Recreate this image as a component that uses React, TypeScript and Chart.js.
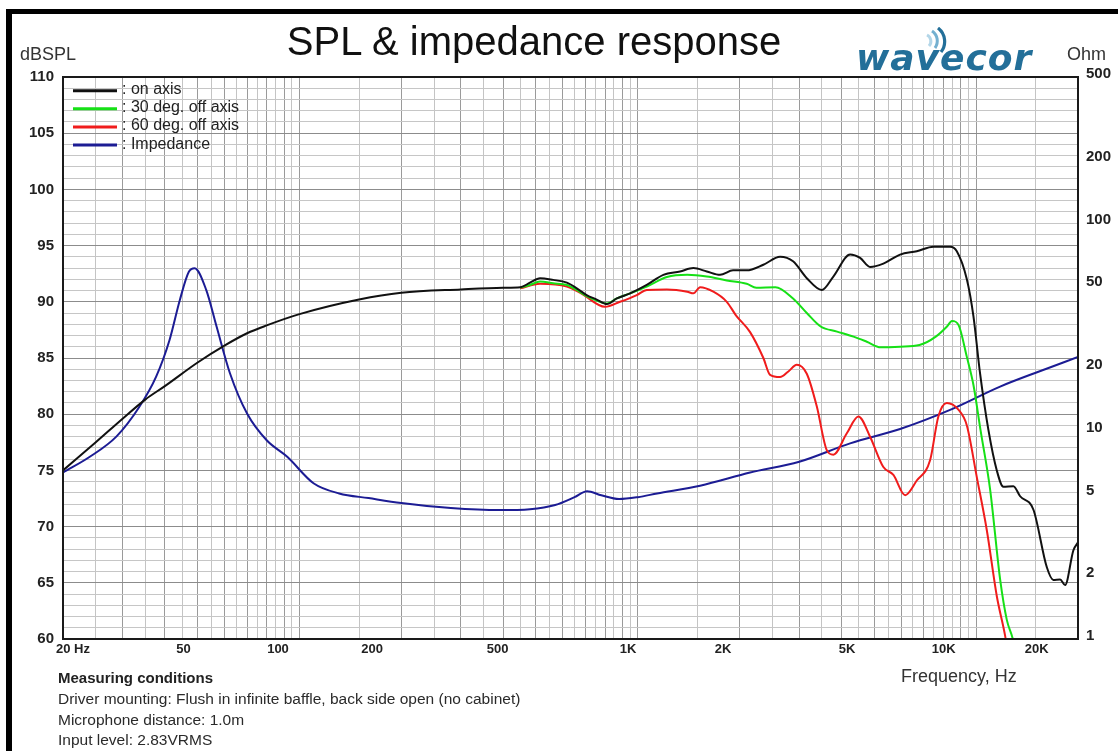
import React, { useEffect, useRef } from 'react';
import { Chart, registerables } from 'chart.js';

Chart.register(...registerables);

const FONT = "'Liberation Sans', Arial, Helvetica, sans-serif";

// ---------- data ----------
const seriesNames = ['on axis', '30 deg. off axis', '60 deg. off axis', 'Impedance'];

const onAxisHz = [20, 25, 30, 35, 40, 50, 60, 70, 80, 100, 150, 200, 300, 400, 450, 480, 514, 562, 617, 660, 706, 756, 810, 867, 949, 1063, 1190, 1333, 1460, 1599, 1750, 1912, 2098, 2350, 2633, 2876, 3158, 3497, 3784, 4242, 4540, 4858, 5318, 5959, 6676, 7476, 8375, 8766, 9386, 9818, 10272, 10870, 11508, 12036, 12884, 13488, 14768, 16170, 16914, 17704, 18320, 19384, 20000];
const onAxisDb = [75.0, 77.5, 79.6, 81.3, 82.5, 84.6, 86.1, 87.2, 87.9, 88.9, 90.2, 90.8, 91.1, 91.25, 91.3, 91.7, 92.1, 91.95, 91.7, 91.2, 90.6, 90.2, 89.8, 90.3, 90.75, 91.5, 92.4, 92.7, 93.0, 92.7, 92.4, 92.8, 92.8, 93.3, 94.0, 93.6, 92.1, 91.05, 92.25, 94.2, 93.9, 93.1, 93.4, 94.2, 94.5, 94.9, 94.9, 94.5, 92.0, 88.7, 83.6, 78.6, 75.0, 73.55, 73.6, 72.7, 71.5, 66.4, 65.25, 65.3, 64.8, 67.9, 68.6];

const off30Hz = [449, 480, 514, 562, 617, 660, 706, 756, 810, 867, 949, 1063, 1219, 1400, 1599, 1832, 2098, 2240, 2550, 2876, 3158, 3470, 3880, 4340, 4750, 5220, 5959, 6800, 7600, 8200, 8480, 8880, 9386, 9818, 10300, 10998, 11772, 12320, 12834, 13300];
const off30Db = [91.25, 91.5, 91.8, 91.65, 91.5, 91.05, 90.5, 90.1, 89.85, 90.3, 90.75, 91.35, 92.2, 92.4, 92.25, 91.9, 91.6, 91.25, 91.3, 90.3, 89.0, 87.8, 87.35, 86.9, 86.45, 85.95, 86.0, 86.15, 86.9, 87.8, 88.3, 87.9, 85.1, 82.6, 78.6, 73.3, 65.3, 61.7, 60.0, 57.5];

const off60Hz = [449, 514, 617, 680, 800, 886, 993, 1063, 1219, 1400, 1460, 1528, 1672, 1832, 1950, 2147, 2350, 2460, 2633, 2786, 2950, 3158, 3380, 3618, 3784, 4147, 4487, 4858, 5318, 5694, 6166, 6676, 7308, 7732, 8190, 8862, 9386, 10044, 10750, 11510, 12178, 12600];
const off60Db = [91.2, 91.6, 91.35, 90.75, 89.55, 90.0, 90.6, 91.05, 91.1, 90.9, 90.75, 91.3, 90.9, 90.0, 88.8, 87.3, 85.0, 83.5, 83.3, 83.8, 84.4, 83.6, 80.7, 76.8, 76.4, 78.3, 79.8, 78.0, 75.3, 74.6, 72.8, 74.1, 75.9, 79.8, 81.0, 80.4, 79.0, 74.4, 69.7, 63.8, 60.3, 57.5];

const impHz = [20, 24, 28.8, 33.6, 37.7, 41.3, 44.3, 47.1, 49, 53, 56.9, 62.3, 70, 80, 92, 110, 131, 160, 200, 280, 390, 480, 570, 650, 708, 780, 880, 1000, 1140, 1528, 2147, 3000, 4242, 5959, 8375, 11772, 15000, 20000];
const impOhm = [6.3, 7.5, 9.4, 13.0, 18.2, 27.3, 42.5, 58, 60.3, 47.5, 31.6, 18.9, 12.1, 9.0, 7.5, 5.6, 5.0, 4.75, 4.5, 4.26, 4.16, 4.2, 4.4, 4.8, 5.13, 4.9, 4.7, 4.8, 5.0, 5.45, 6.3, 7.1, 8.7, 10.2, 12.6, 16.3, 19.0, 22.6];

// tick labels
const xTickLabels = ['20 Hz', '50', '100', '200', '500', '1K', '2K', '5K', '10K', '20K'];
// where the reference centres each frequency label along the axis
const xTickLabelAnchorsHz = [21.4, 45.4, 86.4, 164, 385, 936, 1787, 4155, 8014, 15102];
const dbTickLabels = [60, 65, 70, 75, 80, 85, 90, 95, 100, 105, 110];
const ohmTicks = [1, 2, 5, 10, 20, 50, 100, 200, 500];

// ---------- grid helpers ----------
const gridHz: number[] = [];
for (const dec of [10, 100, 1000, 10000]) {
  for (let m = 1; m < 10; m += 0.5) {
    const v = m * dec;
    if (v >= 20 && v <= 20000) gridHz.push(v);
  }
}
const dbGrid: number[] = [];
for (let v = 60; v <= 110; v++) dbGrid.push(v);

const isMajorHz = (v: number) => {
  const p = Math.pow(10, Math.floor(Math.log10(v) + 1e-9));
  const m = v / p;
  return Math.abs(m - Math.round(m)) < 1e-6;
};

const pts = (xs: number[], ys: number[]) => xs.map((x, i) => ({ x, y: ys[i] }));

const framePlugin = {
  id: 'frameLegend',
  afterDraw(chart: any) {
    const { ctx, chartArea: a } = chart;
    ctx.save();
    ctx.strokeStyle = '#1a1a1a';
    ctx.lineWidth = 2;
    ctx.strokeRect(a.left, a.top, a.right - a.left, a.bottom - a.top);
    chart.data.datasets.forEach((ds: any, i: number) => {
      const y = a.top + 13.7 + i * 18.1;
      ctx.strokeStyle = ds.borderColor;
      ctx.lineWidth = 3;
      ctx.beginPath();
      ctx.moveTo(a.left + 10, y);
      ctx.lineTo(a.left + 54, y);
      ctx.stroke();
      ctx.fillStyle = '#222';
      ctx.font = `16px ${FONT}`;
      ctx.textBaseline = 'alphabetic';
      ctx.textAlign = 'left';
      ctx.fillText(': ' + ds.label, a.left + 59, y + 3.5);
    });
    ctx.restore();
  },
};

const tickFont = (size: number) => ({ family: FONT, size, weight: 'bold' as const });

export default function App() {
  const ref = useRef<HTMLCanvasElement>(null);

  useEffect(() => {
    const canvas = ref.current;
    if (!canvas) return;
    const chart = new Chart(canvas, {
      type: 'line',
      data: {
        datasets: [
          { label: seriesNames[0], data: pts(onAxisHz, onAxisDb), borderColor: '#111111', xAxisID: 'x', yAxisID: 'y' },
          { label: seriesNames[1], data: pts(off30Hz, off30Db), borderColor: '#16e016', xAxisID: 'x', yAxisID: 'y' },
          { label: seriesNames[2], data: pts(off60Hz, off60Db), borderColor: '#f01c1c', xAxisID: 'x', yAxisID: 'y' },
          { label: seriesNames[3], data: pts(impHz, impOhm), borderColor: '#1c1c94', xAxisID: 'x', yAxisID: 'y2' },
        ] as any,
      },
      options: {
        responsive: false,
        animation: false,
        events: [],
        layout: { padding: { top: 77, left: 0, right: 0, bottom: 0 } },
        plugins: { legend: { display: false }, tooltip: { enabled: false }, title: { display: false } },
        elements: {
          point: { radius: 0 },
          line: { borderWidth: 2, cubicInterpolationMode: 'monotone', fill: false },
        },
        scales: {
          x: {
            type: 'logarithmic',
            min: 20,
            max: 20000,
            position: 'bottom',
            afterBuildTicks: (s: any) => { s.ticks = gridHz.map((v) => ({ value: v })); },
            afterFit: (s: any) => { s.height = 0; },
            ticks: { display: false, autoSkip: false },
            grid: {
              drawTicks: false,
              lineWidth: 1,
              color: (c: any) => (c.tick && isMajorHz(c.tick.value) ? '#9a9a9a' : '#c4c4c4'),
            },
            border: { display: false },
          },
          xl: {
            type: 'logarithmic',
            min: 20,
            max: 20000,
            position: 'bottom',
            afterBuildTicks: (s: any) => { s.ticks = xTickLabelAnchorsHz.map((v) => ({ value: v })); },
            afterFit: (s: any) => { s.height = 112; },
            ticks: {
              autoSkip: false,
              maxRotation: 0,
              padding: 3,
              color: '#222',
              font: tickFont(13),
              callback: (_v: any, i: number) => xTickLabels[i],
            },
            grid: { display: false, drawTicks: false },
            border: { display: false },
          },
          y: {
            type: 'linear',
            min: 60,
            max: 110,
            position: 'left',
            afterBuildTicks: (s: any) => { s.ticks = dbGrid.map((v) => ({ value: v })); },
            afterFit: (s: any) => { s.width = 63; },
            ticks: {
              autoSkip: false,
              padding: 9,
              color: '#222',
              font: tickFont(15),
              callback: (v: any) => (dbTickLabels.includes(v) ? String(v) : ''),
            },
            grid: {
              drawTicks: false,
              lineWidth: 1,
              color: (c: any) => (c.tick && dbTickLabels.includes(c.tick.value) ? '#8c8c8c' : '#c6c6c6'),
            },
            border: { display: false },
          },
          y2: {
            type: 'logarithmic',
            min: 1,
            max: 500,
            position: 'right',
            afterBuildTicks: (s: any) => { s.ticks = ohmTicks.map((v) => ({ value: v })); },
            afterFit: (s: any) => { s.width = 40; },
            ticks: {
              autoSkip: false,
              padding: 8,
              labelOffset: -3,
              color: '#222',
              font: tickFont(15),
              callback: (v: any) => String(v),
            },
            grid: { display: false, drawTicks: false },
            border: { display: false },
          },
        } as any,
      },
      plugins: [framePlugin],
    });
    return () => chart.destroy();
  }, []);

  const txt = (left: number, top: number, size: number, content: string, extra: React.CSSProperties = {}) => (
    <div
      style={{
        position: 'absolute',
        left,
        top,
        fontSize: size,
        lineHeight: `${size}px`,
        whiteSpace: 'nowrap',
        color: '#2a2a2a',
        fontFamily: FONT,
        ...extra,
      }}
    >
      {content}
    </div>
  );

  return (
    <div
      style={{
        position: 'fixed',
        left: 0,
        top: 0,
        width: 1118,
        height: 751,
        overflow: 'hidden',
        background: '#ffffff',
        fontFamily: FONT,
      }}
    >
      <div
        style={{
          position: 'absolute',
          left: 6,
          top: 9,
          width: 1400,
          height: 1000,
          borderTop: '5px solid #000',
          borderLeft: '6px solid #000',
          boxSizing: 'border-box',
        }}
      />
      <canvas
        ref={ref}
        width={1118}
        height={751}
        style={{ position: 'absolute', left: 0, top: 0, width: 1118, height: 751 }}
      />
      <div
        style={{
          position: 'absolute',
          left: 0,
          width: 1068,
          top: 21,
          textAlign: 'center',
          fontSize: 40,
          lineHeight: '40px',
          color: '#111',
          fontFamily: FONT,
          whiteSpace: 'nowrap',
        }}
      >
        SPL &amp; impedance response
      </div>
      {txt(20, 45, 18, 'dBSPL', { color: '#333' })}
      {txt(1067, 45, 18, 'Ohm', { color: '#333' })}
      {/* logo */}
      <div
        style={{
          position: 'absolute',
          left: 856,
          top: 40,
          fontSize: 36,
          lineHeight: '36px',
          fontFamily: "'DejaVu Sans', sans-serif",
          fontWeight: 'bold',
          fontStyle: 'italic',
          letterSpacing: 1,
          color: '#236f99',
          whiteSpace: 'nowrap',
        }}
      >
        wavecor
      </div>
      <svg style={{ position: 'absolute', left: 918, top: 27, width: 40, height: 28 }} viewBox="0 0 40 28">
        <path d="M9 8 A7 7 0 0 1 11 19" stroke="#b3d6e8" strokeWidth="3" fill="none" />
        <path d="M14 4 A12 12 0 0 1 17 21" stroke="#74b0d0" strokeWidth="3" fill="none" />
        <path d="M20 1 A17 17 0 0 1 23 25" stroke="#236f99" strokeWidth="3.2" fill="none" />
      </svg>
      {txt(901, 667, 18, 'Frequency, Hz', { color: '#333' })}
      {txt(58, 670, 15, 'Measuring conditions', { fontWeight: 'bold', color: '#222' })}
      {txt(58, 691, 15.5, 'Driver mounting: Flush in infinite baffle, back side open (no cabinet)')}
      {txt(58, 711.5, 15.5, 'Microphone distance: 1.0m')}
      {txt(58, 732, 15.5, 'Input level: 2.83VRMS')}
    </div>
  );
}
